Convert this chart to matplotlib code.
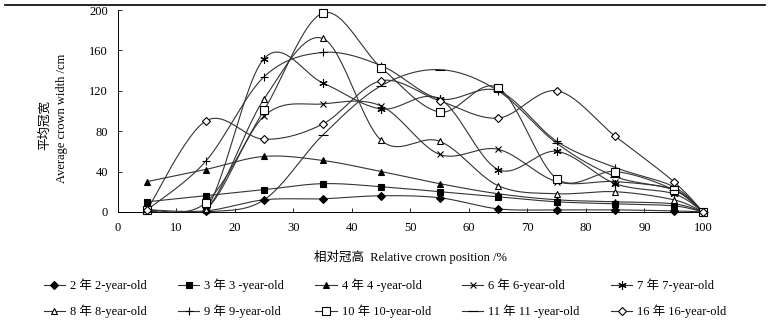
import numpy as np
import matplotlib
matplotlib.use("Agg")
import matplotlib.pyplot as plt
from matplotlib.lines import Line2D

plt.rcParams['font.family'] = ['Liberation Serif', 'Noto Sans CJK SC']
plt.rcParams['axes.unicode_minus'] = False

# relative crown position (%)
pos = [5, 15, 25, 35, 45, 55, 65, 75, 85, 95, 100]

# average crown width (cm) by tree age
w2 = [2, 1, 12, 13, 16, 14, 3, 2, 2, 1, 0]
w3 = [10, 16, 22, 28, 25, 20, 15, 10, 8, 6, 0]
w4 = [30, 42, 55, 51, 40, 28, 18, 12, 10, 8, 0]
w6 = [2, 2, 95, 107, 105, 57, 62, 30, 30, 22, 0]
w7 = [2, 2, 152, 128, 102, 112, 42, 60, 28, 18, 0]
w8 = [2, 2, 112, 172, 71, 70, 26, 18, 20, 12, 0]
w9 = [2, 50, 134, 158, 145, 112, 120, 70, 44, 25, 0]
w10 = [2, 9, 101, 197, 143, 99, 123, 33, 40, 22, 0]
w11 = [0, 0, 12, 76, 125, 141, 120, 68, 35, 22, 0]
w16 = [2, 90, 72, 87, 130, 110, 93, 120, 75, 30, 0]

labels = ["2 年 2-year-old", "3 年 3 -year-old", "4 年 4 -year-old",
          "6 年 6-year-old", "7 年 7-year-old", "8 年 8-year-old",
          "9 年 9-year-old", "10 年 10-year-old", "11 年 11 -year-old",
          "16 年 16-year-old"]
series = [w2, w3, w4, w6, w7, w8, w9, w10, w11, w16]
markers = [('D', 'k', 4), ('s', 'k', 5), ('^', 'k', 5), ('x', 'k', 5),
           ((6, 2, 0), 'k', 6), ('^', 'w', 5), ('+', 'k', 6), ('s', 'w', 6),
           ('_', 'k', 7), ('D', 'w', 4.5)]


def smooth(x, y, n=30):
    # excel-like smoothed line (bezier through the points)
    p = np.column_stack([x, y]).astype(float)
    p = np.vstack([p[0], p, p[-1]])
    out = []
    for i in range(1, len(p) - 2):
        p0, p1, p2, p3 = p[i - 1], p[i], p[i + 1], p[i + 2]
        c1 = p1 + (p2 - p0) / 6
        c2 = p2 - (p3 - p1) / 6
        t = np.linspace(0, 1, n)[:, None]
        seg = ((1 - t) ** 3 * p1 + 3 * (1 - t) ** 2 * t * c1
               + 3 * (1 - t) * t ** 2 * c2 + t ** 3 * p2)
        out.append(seg)
    out = np.vstack(out)
    return out[:, 0], out[:, 1]


fig = plt.figure(figsize=(7.7, 3.26), dpi=100)
ax = fig.add_axes([0.153, 0.35, 0.76, 0.619])

handles = []
for ys, (m, fc, ms), lab in zip(series, markers, labels):
    sx, sy = smooth(pos, ys)
    ax.plot(sx, sy, color='#333333', lw=0.8, zorder=2)
    ax.plot(pos, ys, ls='none', marker=m, mfc=fc, mec='k', ms=ms, mew=0.8,
            clip_on=False, zorder=3)
    handles.append(Line2D([], [], color='#333333', lw=0.8, marker=m, mfc=fc,
                          mec='k', ms=ms, mew=0.8, label=lab))

ax.set_xlim(0, 100)
ax.set_ylim(0, 200)
ax.set_xticks(range(0, 101, 10))
ax.set_yticks(range(0, 201, 40))
ax.tick_params(direction='in', length=3, width=0.6, labelsize=9, pad=7)
for s in ['top', 'right']:
    ax.spines[s].set_visible(False)
for s in ['left', 'bottom']:
    ax.spines[s].set_linewidth(0.7)

ax.set_xlabel("相对冠高  Relative crown position /%", fontsize=9, labelpad=12)
fig.text(0.058, 0.617, "平均冠宽", rotation=90, fontsize=9, ha='center', va='center')
fig.text(0.081, 0.638, "Average crown width /cm", rotation=90, fontsize=9,
         ha='center', va='center')

order = [0, 5, 1, 6, 2, 7, 3, 8, 4, 9]
fig.legend([handles[i] for i in order], [labels[i] for i in order],
           loc='lower center', bbox_to_anchor=(0.5, -0.01), ncol=5,
           frameon=False, fontsize=9, handlelength=1.7, handletextpad=0.4,
           columnspacing=2.5, labelspacing=1.0)

fig.add_artist(Line2D([0.007, 0.993], [0.985, 0.985], color='k', lw=1.2))

fig.savefig("out.png", dpi=100)
